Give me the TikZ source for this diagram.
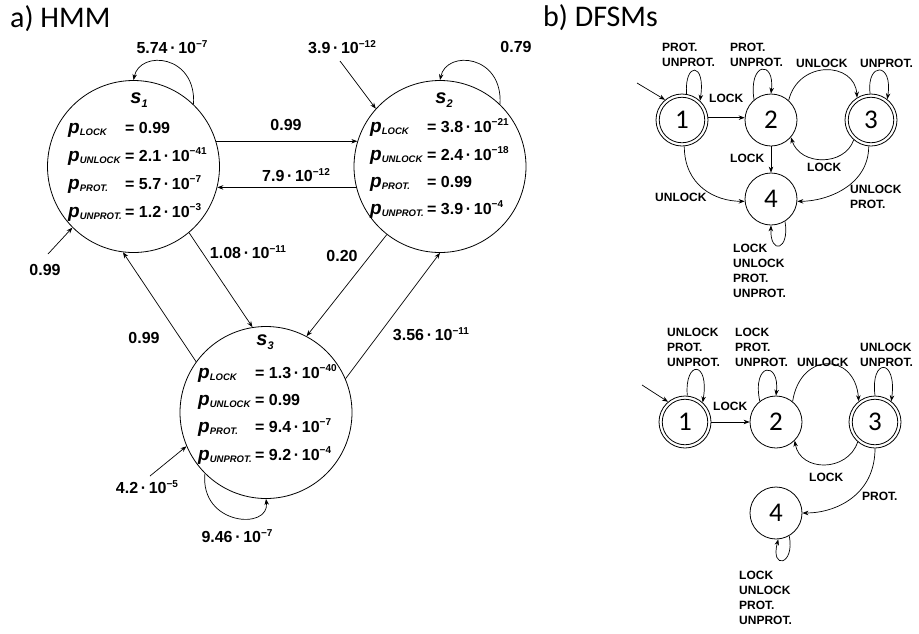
\documentclass[tikz,border=0pt]{standalone}
\usepackage{fontspec}
\setmainfont{Liberation Sans}
\newfontfamily\calib{Carlito}
\newfontface\bifont{Liberation Sans Bold Italic}
\usetikzlibrary{arrows.meta}
\newcommand{\pv}[1]{\makebox[57pt][l]{{\bifont\fontsize{19}{19}\selectfont p}\raisebox{-0.35ex}{\bifont\fontsize{9.5}{9.5}\selectfont #1}}}
\newcommand{\tn}[1]{10\raisebox{0.75ex}{\fontsize{10}{10}\selectfont −#1}}
\newcommand{\md}{\,·\,}
\newcommand{\sname}[1]{{\bifont\fontsize{20}{20}\selectfont s\raisebox{-0.45ex}{\bfseries\upshape\fontsize{11}{11}\selectfont #1}}}
\tikzset{
  st/.style={circle, draw, line width=0.8pt, minimum size=172pt, inner sep=0pt},
  fs/.style={circle, draw, line width=0.8pt, minimum size=52pt, inner sep=0pt, font=\calib\fontsize{27}{27}\selectfont},
  fsin/.style={circle, draw, line width=0.8pt, minimum size=45.5pt, inner sep=0pt},
  edge/.style={line width=0.7pt, -{Stealth[length=6pt,width=4.5pt]}},
  lab/.style={font=\bfseries\fontsize{16}{19}\selectfont, inner sep=0pt},
  flab/.style={font=\bfseries\fontsize{12}{15}\selectfont, align=left, inner sep=0pt, anchor=west},
  row/.style={anchor=base west, inner sep=0pt, font=\bfseries\fontsize{16}{19}\selectfont},
  ttl/.style={anchor=base west, inner sep=0pt, font=\calib\fontsize{30}{30}\selectfont},
}
\begin{document}
\begin{tikzpicture}[x=1pt,y=-1pt]
\useasboundingbox (0,0) rectangle (919,633);
% titles
\node[ttl] (ta) at (10,27) {a) HMM};
\node[ttl] (tb) at (543,26) {b) DFSMs};

% ---------------- HMM ----------------
\node[st] (s1) at (133.5,166.5) {};
\node[st] (s2) at (440,166.5) {};
\node[st] (s3) at (266,412.5) {};

\node[anchor=base, inner sep=0pt] (s1n) at (139,103) {\sname{1}};
\node[row] (s1a) at (68,133) {\pv{LOCK}= 0.99};
\node[row] (s1b) at (68,161) {\pv{UNLOCK}= 2.1\md\tn{41}};
\node[row] (s1c) at (68,189) {\pv{PROT.}= 5.7\md\tn{7}};
\node[row] (s1d) at (68,217) {\pv{UNPROT.}= 1.2\md\tn{3}};

\node[anchor=base, inner sep=0pt] (s2n) at (444,103) {\sname{2}};
\node[row] (s2a) at (370,132) {\pv{LOCK}= 3.8\md\tn{21}};
\node[row] (s2b) at (370,160) {\pv{UNLOCK}= 2.4\md\tn{18}};
\node[row] (s2c) at (370,187) {\pv{PROT.}= 0.99};
\node[row] (s2d) at (370,214) {\pv{UNPROT.}= 3.9\md\tn{4}};

\node[anchor=base, inner sep=0pt] (s3n) at (265,345) {\sname{3}};
\node[row] (s3a) at (198,378) {\pv{LOCK}= 1.3\md\tn{40}};
\node[row] (s3b) at (198,405) {\pv{UNLOCK}= 0.99};
\node[row] (s3c) at (198,432) {\pv{PROT.}= 9.4\md\tn{7}};
\node[row] (s3d) at (198,460) {\pv{UNPROT.}= 9.2\md\tn{4}};

% self loops
\draw[edge] (s1.46) .. controls +(3,-50) and +(6.5,-30.5) .. (s1.90);
\draw[edge] (s2.46) .. controls +(3,-50) and +(6.5,-30.5) .. (s2.90);
\draw[edge] (s3.225) .. controls +(-5,52) and +(4,31.5) .. (s3.270);
% initial arrows
\coordinate (i1) at (48,254);
\coordinate (i2) at (340,61);
\coordinate (i3) at (150,476);
\draw[edge] (i1) -- (s1.225);
\draw[edge] (i2) -- (s2.138);
\draw[edge] (i3) -- (s3.203);
% transitions
\draw[edge] (s1.17) -- (s2.163);
\draw[edge] (s2.194.5) -- (s1.-14.5);
\draw[edge] (s1.-50) -- (s3.99.4);
\draw[edge] (s3.144.6) -- (s1.263.7);
\draw[edge] (s2.232) -- (s3.62.7);
\draw[edge] (s3.23.2) -- (s2.270);

% labels
\node[lab] (l1) at (172,47) {5.74\md\tn{7}};
\node[lab] (l2) at (342,47) {3.9\md\tn{12}};
\node[lab] (l3) at (516,47) {0.79};
\node[lab] (l4) at (286,125) {0.99};
\node[lab] (l5) at (296,175) {7.9\md\tn{12}};
\node[lab] (l6) at (45,270) {0.99};
\node[lab] (l7) at (248,252) {1.08\md\tn{11}};
\node[lab] (l8) at (342,256) {0.20};
\node[lab] (l9) at (144,338) {0.99};
\node[lab] (l10) at (431,334) {3.56\md\tn{11}};
\node[lab] (l11) at (147,487) {4.2\md\tn{5}};
\node[lab] (l12) at (237,536) {9.46\md\tn{7}};

% ---------------- DFSM top ----------------
\node[fs] (n1) at (682,120) {1};
\node[fsin] (n1i) at (682,120) {};
\node[fs] (n2) at (771,120) {2};
\node[fs] (n3) at (871,120) {3};
\node[fsin] (n3i) at (871,120) {};
\node[fs] (n4) at (771,199) {4};

\coordinate (fi1) at (637,83);
\draw[edge] (fi1) -- (n1.130);
\draw[edge] (n1.80) .. controls +(-2.5,-32.4) and +(6,-39) .. (n1.47);
\draw[edge] (n1.5) -- (n2.175);
\draw[edge] (n2.130) .. controls +(-6,-38) and +(4,-34) .. (n2.90);
\draw[edge] (n2.48) .. controls +(10,-41) and +(-2,-36) .. (n3.122);
\draw[edge] (n3.92) .. controls +(-4,-32) and +(6,-37.5) .. (n3.52);
\draw[edge] (n3.229) .. controls +(-9,26.4) and +(9.4,28.9) .. (n2.-41);
\draw[edge] (n2) -- (n4);
\draw[edge] (n1.-85) .. controls +(0,39) and +(-30,0) .. (n4.185);
\draw[edge] (n3.-95) .. controls +(0,39) and +(30,0) .. (n4.-5);
\draw[edge] (n4.-58) .. controls +(5,29) and +(-1,30) .. (n4.-90);

\node[flab] (fa1) at (662,55) {PROT.\\UNPROT.};
\node[flab] (fa2) at (730,55) {PROT.\\UNPROT.};
\node[flab] (fa3) at (796,63) {UNLOCK};
\node[flab] (fa4) at (860,63) {UNPROT.};
\node[flab] (fa5) at (709,98) {LOCK};
\node[flab] (fa6) at (730,158) {LOCK};
\node[flab] (fa7) at (807,167) {LOCK};
\node[flab] (fa8) at (655,197) {UNLOCK};
\node[flab] (fa9) at (850,197) {UNLOCK\\PROT.};
\node[flab] (fa10) at (733,271) {LOCK\\UNLOCK\\PROT.\\UNPROT.};

% ---------------- DFSM bottom ----------------
\node[fs] (m1) at (685,422) {1};
\node[fsin] (m1i) at (685,422) {};
\node[fs] (m2) at (776,422) {2};
\node[fs] (m3) at (875,422) {3};
\node[fsin] (m3i) at (875,422) {};
\node[fs] (m4) at (776,513) {4};

\coordinate (gi1) at (642,385);
\draw[edge] (gi1) -- (m1.130);
\draw[edge] (m1.85) .. controls +(-3,-36) and +(7,-42) .. (m1.48);
\draw[edge] (m1) -- (m2);
\draw[edge] (m2.128) .. controls +(-8,-39) and +(4,-35) .. (m2.90);
\draw[edge] (m2.51) .. controls +(7.6,-49.8) and +(-4,-49.5) .. (m3.128);
\draw[edge] (m3.90) .. controls +(-5,-38) and +(6,-43.5) .. (m3.52);
\draw[edge] (m3.229) .. controls +(-10,30.4) and +(5.6,31.6) .. (m2.-45);
\draw[edge] (m3.-90) .. controls +(0,47) and +(33,0) .. (m4.0);
\draw[edge] (m4.-60) .. controls +(6,29.5) and +(-8.3,31) .. (m4.-85);

\node[flab] (ga1) at (667,347) {UNLOCK\\PROT.\\UNPROT.};
\node[flab] (ga2) at (735,347) {LOCK\\PROT.\\UNPROT.};
\node[flab] (ga3) at (797,362) {UNLOCK};
\node[flab] (ga4) at (860,355) {UNLOCK\\UNPROT.};
\node[flab] (ga5) at (713,406) {LOCK};
\node[flab] (ga6) at (809,477) {LOCK};
\node[flab] (ga7) at (862,496) {PROT.};
\node[flab] (ga8) at (739,598) {LOCK\\UNLOCK\\PROT.\\UNPROT.};
\end{tikzpicture}
\end{document}
